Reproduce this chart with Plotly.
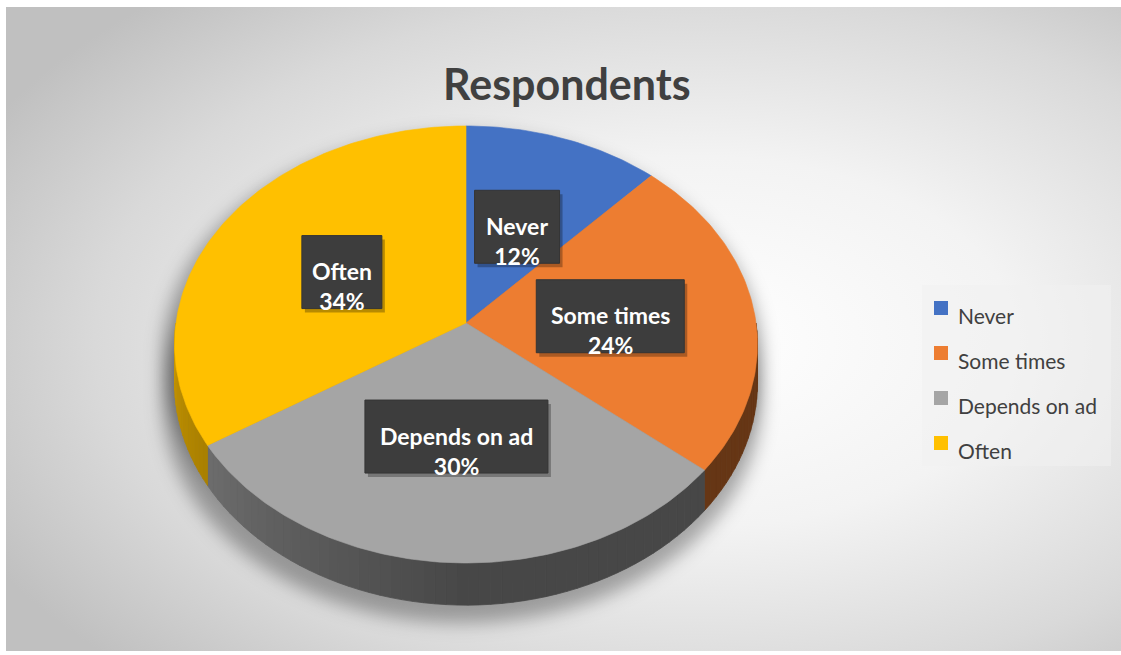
import math
import base64
import plotly.graph_objects as go

# ---- data ----
categories = ["Never", "Some times", "Depends on ad", "Often"]
shares = [12, 24, 30, 34]
colors = ["#4472C4", "#ED7D31", "#A5A5A5", "#FFC000"]
title_text = "Respondents"

# ---- geometry / style ----
W, H = 1121, 655
AREA = (6, 7, 1121, 651)          # chart area box (x0, y0, x1, y1)
CX, CY = 466, 323                 # pie apex on screen
RX, RY = 290, 216.4               # pie radii
PERSP = 0.0983                    # perspective strength
DEPTH = 38                        # pie thickness
FONT = "Lato"
TEXT_DARK = "#404040"
LABEL_BOX = {"Never": 85, "Some times": 148, "Depends on ad": 183, "Often": 80}
LABEL_BOX_H = 73


def project(theta_deg, r=1.0, drop=0.0):
    """Point on the tilted disk; theta measured clockwise from 12 o'clock."""
    t = math.radians(theta_deg)
    u, v = r * math.sin(t), r * math.cos(t)
    s = 1.0 / (1.0 + PERSP * v)
    return CX + RX * u * s, CY - RY * v * s + drop * s


def shade(hex_color, f):
    h = hex_color.lstrip("#")
    r, g, b = (int(h[i:i + 2], 16) for i in (0, 2, 4))
    return "rgb(%d,%d,%d)" % (round(r * f), round(g * f), round(b * f))


def side_factor(theta):
    # front wall is lit from the left
    return 0.43 + 0.36 * max(0.0, min(1.0, (theta - 180.0) / 90.0))


total = float(sum(shares))
bounds = []
acc = 0.0
for v in shares:
    a0 = 360.0 * acc / total
    acc += v
    bounds.append((a0, 360.0 * acc / total))

fig = go.Figure()

# ---- pie walls (front half only) ----
STEP = 2.0
for (a0, a1), col in zip(bounds, colors):
    lo, hi = max(a0, 90.0), min(a1, 270.0)
    if hi <= lo:
        continue
    n = max(1, int(math.ceil((hi - lo) / STEP)))
    for i in range(n):
        t0 = lo + (hi - lo) * i / n
        t1 = lo + (hi - lo) * (i + 1) / n
        p = [project(t0), project(t1), project(t1, drop=DEPTH), project(t0, drop=DEPTH)]
        c = shade(col, side_factor((t0 + t1) / 2))
        fig.add_trace(go.Scatter(
            x=[q[0] for q in p] + [p[0][0]], y=[q[1] for q in p] + [p[0][1]],
            mode="lines", fill="toself", fillcolor=c,
            line=dict(color=c, width=0.8), hoverinfo="skip", showlegend=False))

# ---- pie top surface ----
for (a0, a1), col, name in zip(bounds, colors, categories):
    n = max(2, int(math.ceil(a1 - a0)))
    pts = [(CX, CY)] + [project(a0 + (a1 - a0) * i / n) for i in range(n + 1)] + [(CX, CY)]
    fig.add_trace(go.Scatter(
        x=[q[0] for q in pts], y=[q[1] for q in pts],
        mode="lines", fill="toself", fillcolor=col,
        line=dict(color=col, width=0.6), name=name,
        hoverinfo="skip", showlegend=False))

shapes = []
annotations = []

# ---- data labels ----
for (a0, a1), name, v in zip(bounds, categories, shares):
    lx, ly = project((a0 + a1) / 2, r=0.5)
    bw = LABEL_BOX[name]
    x0, x1 = lx - bw / 2, lx + bw / 2
    y0, y1 = ly - LABEL_BOX_H / 2, ly + LABEL_BOX_H / 2
    shapes.append(dict(type="rect", xref="x", yref="y", x0=x0 + 3, x1=x1 + 3, y0=y0 + 4, y1=y1 + 4,
                       fillcolor="rgba(0,0,0,0.28)", line=dict(width=0), layer="above"))
    shapes.append(dict(type="rect", xref="x", yref="y", x0=x0, x1=x1, y0=y0, y1=y1,
                       fillcolor="#3d3d3d", line=dict(color="#353535", width=1), layer="above"))
    annotations.append(dict(
        x=lx, y=ly + 14, xref="x", yref="y", showarrow=False,
        text="<b>%s<br>%d%%</b>" % (name, round(100 * v / total)),
        font=dict(family=FONT, size=23, color="#ffffff"),
        xanchor="center", yanchor="middle", align="center"))

# ---- title ----
annotations.append(dict(x=567, y=83, xref="x", yref="y", showarrow=False,
                        text="<b>%s</b>" % title_text,
                        font=dict(family=FONT, size=43, color=TEXT_DARK),
                        xanchor="center", yanchor="middle"))

# ---- legend ----
LEG_X0, LEG_Y0, LEG_X1, LEG_Y1 = 922, 285, 1111, 466
shapes.append(dict(type="rect", xref="x", yref="y", x0=LEG_X0, x1=LEG_X1, y0=LEG_Y0, y1=LEG_Y1,
                   fillcolor="rgba(240,240,240,0.55)", line=dict(width=0), layer="above"))
for i, (name, col) in enumerate(zip(categories, colors)):
    yc = 308 + 45 * i
    shapes.append(dict(type="rect", xref="x", yref="y", x0=934, x1=948, y0=yc - 7, y1=yc + 7,
                       fillcolor=col, line=dict(width=0), layer="above"))
    annotations.append(dict(x=956, y=yc + 7, xref="x", yref="y", showarrow=False,
                            text=name, font=dict(family=FONT, size=21, color=TEXT_DARK),
                            xanchor="left", yanchor="middle"))

# ---- chart-area background with soft shadow under the pie ----
ax0, ay0, ax1, ay1 = AREA
aw, ah = ax1 - ax0, ay1 - ay0
top_y = project(0)[1]
bot_y = project(180)[1]
ecx, ecy = CX - ax0, (top_y + bot_y) / 2 - ay0
erx, ery = RX / math.sqrt(1 - PERSP ** 2), (bot_y - top_y) / 2
svg = f"""<svg xmlns='http://www.w3.org/2000/svg' width='{aw}' height='{ah}' viewBox='0 0 {aw} {ah}'>
<defs>
<radialGradient id='bg' cx='0.62' cy='0.52' r='0.72'>
<stop offset='0' stop-color='#ffffff'/>
<stop offset='0.4' stop-color='#f3f3f3'/>
<stop offset='0.75' stop-color='#d9d9d9'/>
<stop offset='1' stop-color='#c0c0c0'/>
</radialGradient>
<filter id='blur' x='-30%' y='-30%' width='160%' height='160%'><feGaussianBlur stdDeviation='9'/></filter>
</defs>
<rect x='0' y='0' width='{aw}' height='{ah}' fill='url(#bg)'/>
<g filter='url(#blur)' fill='#000000' fill-opacity='0.32'>
<ellipse cx='{ecx - 4:.1f}' cy='{ecy + 12:.1f}' rx='{erx + 8:.1f}' ry='{ery + 4:.1f}'/>
<ellipse cx='{ecx - 4:.1f}' cy='{ecy + DEPTH + 18:.1f}' rx='{erx + 8:.1f}' ry='{ery + 4:.1f}'/>
</g>
</svg>"""
bg_uri = "data:image/svg+xml;base64," + base64.b64encode(svg.encode()).decode()

fig.update_layout(
    width=W, height=H,
    margin=dict(l=0, r=0, t=0, b=0),
    paper_bgcolor="#ffffff", plot_bgcolor="rgba(0,0,0,0)",
    xaxis=dict(range=[0, W], visible=False, fixedrange=True),
    yaxis=dict(range=[H, 0], visible=False, fixedrange=True),
    shapes=shapes, annotations=annotations,
    images=[dict(source=bg_uri, xref="paper", yref="paper",
                 x=ax0 / W, y=1 - ay0 / H, sizex=aw / W, sizey=ah / H,
                 xanchor="left", yanchor="top", sizing="stretch", layer="below")],
    showlegend=False,
)

fig.write_html("out.html")
